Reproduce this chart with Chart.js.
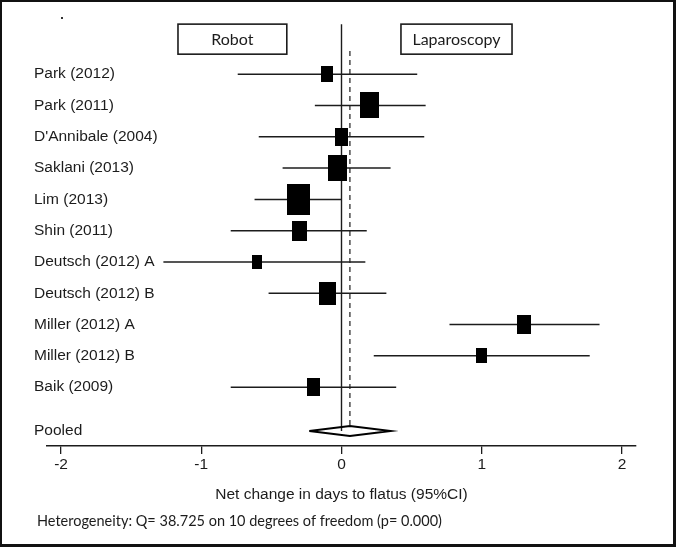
<!DOCTYPE html>
<html>
<head>
<meta charset="utf-8">
<script src="https://cdn.jsdelivr.net/npm/chart.js@4.4.1/dist/chart.umd.min.js"></script>
<style>
  html, body { margin: 0; padding: 0; background: #fff; overflow: hidden; }
  #wrap { width: 676px; height: 547px; position: relative; }
</style>
</head>
<body>
<div id="wrap"><canvas id="forest"></canvas></div>
<script>
// study data (net change in days to flatus)
const studies = ['Park (2012)', 'Park (2011)', "D'Annibale (2004)", 'Saklani (2013)', 'Lim (2013)', 'Shin (2011)',
    'Deutsch (2012) A', 'Deutsch (2012) B', 'Miller (2012) A', 'Miller (2012) B', 'Baik (2009)'];
const estimates = [-0.10, 0.20, 0.00, -0.03, -0.31, -0.30, -0.60, -0.10, 1.30, 1.00, -0.20];
const lowerCI = [-0.74, -0.19, -0.59, -0.42, -0.62, -0.79, -1.27, -0.52, 0.77, 0.23, -0.79];
const upperCI = [0.54, 0.60, 0.59, 0.35, 0.00, 0.18, 0.17, 0.32, 1.84, 1.77, 0.39];
const weights = [5.5, 13.8, 6.0, 13.1, 20.2, 8.6, 3.8, 11.0, 7.5, 4.6, 6.0];
const pooledLabel = 'Pooled';
const pooledEstimate = 0.06;
const pooledLower = -0.23;
const pooledUpper = 0.35;
const xTicks = [-2, -1, 0, 1, 2];
const axisTitle = 'Net change in days to flatus (95%CI)';
const heterogeneity = 'Heterogeneity: Q= 38.725 on 10 degrees of freedom (p= 0.000)';
const favourLabels = ['Robot', 'Laparoscopy'];

const ink = '#1c1c1c';
const pooledRow = studies.length + 0.4;
const diamondHalf = 0.16;

Chart.defaults.font.family = "'Liberation Sans', Arial, sans-serif";
Chart.defaults.color = ink;

function boxImage(weight) {
    const w = Math.max(4, Math.round(5.12 * Math.sqrt(weight)));
    const c = document.createElement('canvas');
    c.width = w;
    c.height = Math.round(w * 1.35);
    const g = c.getContext('2d');
    g.fillStyle = '#000';
    g.fillRect(0, 0, c.width, c.height);
    return c;
}

const datasets = [];

// boxes, size from study weight
datasets.push({
    type: 'scatter',
    data: estimates.map((v, i) => ({ x: v, y: i })),
    pointStyle: weights.map(boxImage),
    pointRadius: 1,
    order: 0
});

// pooled diamond
datasets.push({
    type: 'line',
    data: [
        { x: pooledLower, y: pooledRow },
        { x: pooledEstimate, y: pooledRow - diamondHalf },
        { x: pooledUpper, y: pooledRow },
        { x: pooledEstimate, y: pooledRow + diamondHalf },
        { x: pooledLower, y: pooledRow }
    ],
    borderColor: '#000',
    borderWidth: 2,
    pointRadius: 0,
    fill: false,
    tension: 0,
    order: 1
});

// confidence interval whiskers
studies.forEach((s, i) => {
    datasets.push({
        type: 'line',
        data: [{ x: lowerCI[i], y: i }, { x: upperCI[i], y: i }],
        borderColor: ink,
        borderWidth: 1.5,
        pointRadius: 0,
        order: 2
    });
});

// line of no effect and pooled estimate line
datasets.push({
    type: 'line',
    data: [{ x: 0, y: -1.6 }, { x: 0, y: pooledRow }],
    borderColor: ink,
    borderWidth: 1.4,
    pointRadius: 0,
    order: 3
});
datasets.push({
    type: 'line',
    data: [{ x: pooledEstimate, y: -0.74 }, { x: pooledEstimate, y: pooledRow - diamondHalf }],
    borderColor: ink,
    borderWidth: 1.2,
    borderDash: [5, 4],
    pointRadius: 0,
    order: 3
});

const extras = {
    id: 'extras',
    beforeDraw(chart) {
        const ctx = chart.ctx;
        ctx.save();
        ctx.fillStyle = '#fff';
        ctx.fillRect(0, 0, chart.width, chart.height);
        ctx.restore();
    },
    afterDraw(chart) {
        const ctx = chart.ctx;
        const xs = chart.scales.x, ys = chart.scales.y;
        ctx.save();

        // study labels
        ctx.fillStyle = ink;
        ctx.font = "15.5px 'Liberation Sans', Arial, sans-serif";
        ctx.textAlign = 'left';
        ctx.textBaseline = 'middle';
        studies.forEach((s, i) => ctx.fillText(s, 34, ys.getPixelForValue(i)));
        ctx.fillText(pooledLabel, 34, ys.getPixelForValue(pooledRow));

        // favours boxes
        ctx.font = "16px Lato, 'Open Sans', sans-serif";
        ctx.textAlign = 'center';
        ctx.strokeStyle = ink;
        ctx.lineWidth = 1.6;
        const top = ys.getPixelForValue(-1.6), bot = ys.getPixelForValue(-0.64);
        [[-1.166, -0.39], [0.424, 1.216]].forEach((r, k) => {
            const l = xs.getPixelForValue(r[0]), rr = xs.getPixelForValue(r[1]);
            ctx.strokeRect(l, top, rr - l, bot - top);
            ctx.fillText(favourLabels[k], (l + rr) / 2, (top + bot) / 2 + 1);
        });

        // heterogeneity note
        ctx.textAlign = 'left';
        ctx.font = "14.5px Lato, 'Open Sans', sans-serif";
        ctx.fillText(heterogeneity, 37, 521);

        // stray dot and frame
        ctx.fillStyle = '#333';
        ctx.fillRect(61, 17, 2, 2);
        ctx.fillStyle = '#111';
        ctx.fillRect(0, 0, chart.width, 2);
        ctx.fillRect(0, 0, 2, chart.height);
        ctx.fillRect(chart.width - 3, 0, 3, chart.height);
        ctx.fillRect(0, chart.height - 3, chart.width, 3);
        ctx.restore();
    }
};

new Chart(document.getElementById('forest'), {
    type: 'scatter',
    data: { datasets: datasets },
    options: {
        responsive: true,
        maintainAspectRatio: false,
        animation: false,
        layout: { padding: { left: 47, right: 40, top: 21, bottom: 43 } },
        plugins: { legend: { display: false }, tooltip: { enabled: false } },
        scales: {
            x: {
                type: 'linear',
                min: -2.1,
                max: 2.1,
                afterBuildTicks: s => { s.ticks = xTicks.map(v => ({ value: v })); },
                afterFit: s => { s.height = 58; },
                grid: { drawOnChartArea: false, drawTicks: true, tickLength: 8, color: ink, lineWidth: 1.3 },
                border: { display: true, color: ink, width: 1.5 },
                ticks: { color: ink, padding: 1, font: { size: 15.5 }, callback: v => String(v) },
                title: { display: true, text: axisTitle, color: ink, font: { size: 15.5 }, padding: { top: 0, bottom: 0 } }
            },
            y: {
                type: 'linear',
                display: false,
                reverse: true,
                min: -1.7,
                max: 11.88
            }
        }
    },
    plugins: [extras]
});
</script>
</body>
</html>
